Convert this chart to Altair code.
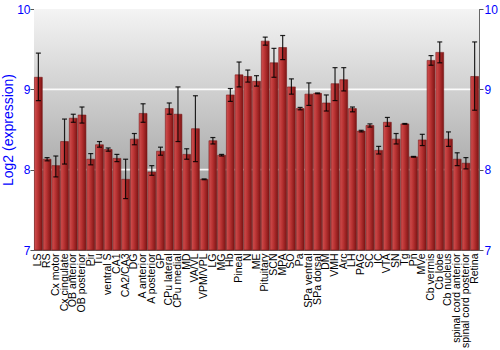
import altair as alt
import pandas as pd

regions = ["LS", "RS", "Cx motor", "Cx cingulate", "OB anterior", "OB posterior", "Pir", "Tu",
           "ventral S", "CA1", "CA2/CA3", "DG", "A anterior", "A posterior", "GP", "CPu lateral",
           "CPu medial", "MD", "VA/VL", "VPM/VPL", "LG", "MG", "Hb", "Pineal", "N", "ME",
           "Pituitary", "SCN", "MPA", "SO", "Pa", "SPa ventral", "SPa dorsal", "DM", "VMH", "Arc",
           "LH", "PAG", "SC", "IC", "VTA", "SN", "Tg", "Pn", "MVe", "Cb vermis", "Cb lobe",
           "Cb nucleus", "spinal cord anterior", "spinal cord posterior", "Retina"]
values = [9.15, 8.13, 8.05, 8.35, 8.64, 8.68, 8.13, 8.31,
          8.25, 8.14, 7.88, 8.38, 8.70, 7.97, 8.23, 8.76,
          8.69, 8.19, 8.51, 7.88, 8.36, 8.18, 8.93, 9.18, 9.16, 9.10,
          9.60, 9.33, 9.52, 9.03, 8.76, 8.94, 8.95, 8.83, 9.07, 9.12,
          8.76, 8.48, 8.55, 8.24, 8.59, 8.38, 8.57, 8.16, 8.37, 9.36, 9.46,
          8.38, 8.13, 8.08, 9.16]
err_low = [8.86, 8.11, 7.91, 8.07, 8.59, 8.58, 8.06, 8.28,
           8.23, 8.10, 7.64, 8.31, 8.59, 7.93, 8.18, 8.69,
           8.35, 8.13, 8.10, 7.875, 8.32, 8.17, 8.85, 9.03, 9.09, 9.04,
           9.55, 9.15, 9.37, 8.94, 8.745, 8.80, 8.945, 8.73, 8.86, 8.98,
           8.72, 8.47, 8.53, 8.195, 8.54, 8.32, 8.565, 8.155, 8.30, 9.30, 9.33,
           8.29, 8.05, 8.01, 8.74]
err_high = [9.45, 8.15, 8.17, 8.63, 8.69, 8.78, 8.20, 8.35,
            8.27, 8.19, 8.13, 8.45, 8.82, 8.05, 8.28, 8.83,
            9.03, 8.26, 8.92, 7.885, 8.40, 8.19, 9.01, 9.34, 9.24, 9.17,
            9.65, 9.51, 9.67, 9.13, 8.775, 9.08, 8.955, 8.93, 9.27, 9.27,
            8.78, 8.49, 8.57, 8.29, 8.65, 8.45, 8.575, 8.165, 8.44, 9.42, 9.59,
            8.47, 8.21, 8.15, 9.59]
y_ticks = [7, 8, 9, 10]
grid_lines = [8, 9]

df = pd.DataFrame({"region": regions, "value": values, "lo": err_low, "hi": err_high})

W, H = 445, 241
FONT = "Liberation Sans"

yscale = alt.Scale(domain=[7, 10], nice=False, zero=False)
xenc = alt.X("region:N", sort=regions, scale=alt.Scale(paddingInner=0.1, paddingOuter=0.05),
             axis=alt.Axis(title=None, labelAngle=-90, labelAlign="right", labelBaseline="middle",
                           labelFontSize=10.5, labelColor="black", ticks=False, labelPadding=3,
                           domainColor="#666666", labelFont=FONT))
xplain = alt.X("region:N", sort=regions)

bg = alt.Chart(alt.Data(values=[{}])).mark_rect(
    fill={"gradient": "linear", "x1": 0, "y1": 0, "x2": 0, "y2": 1,
          "stops": [{"offset": 0, "color": "#f4f4f4"}, {"offset": 1, "color": "#898989"}]}
).encode(x=alt.value(0), x2=alt.value(W), y=alt.value(0), y2=alt.value(H))

grid_df = pd.DataFrame({"g": grid_lines})
grid = alt.Chart(grid_df).mark_rule(color="white", strokeWidth=1.6, opacity=0.9).encode(
    y=alt.Y("g:Q", scale=yscale, axis=None))

bars = alt.Chart(df).mark_bar(
    fill={"gradient": "linear", "x1": 0, "y1": 0, "x2": 1, "y2": 0,
          "stops": [{"offset": 0, "color": "#d05050"}, {"offset": 0.45, "color": "#b83232"},
                    {"offset": 1, "color": "#7e1414"}]},
    stroke="#7a1a1a", strokeWidth=0.6
).encode(
    x=xenc,
    y=alt.Y("value:Q", scale=yscale,
            axis=alt.Axis(title="Log2 (expression)", values=y_ticks, grid=False,
                          labelColor="blue", titleColor="blue", labelFontSize=12,
                          titleFontSize=14, titleFontWeight="normal", tickColor="#555555",
                          domainColor="#666666", tickSize=4, labelPadding=0,
                          labelFont=FONT, titleFont=FONT, titlePadding=1)),
    y2=alt.datum(7),
)

rules = alt.Chart(df).mark_rule(color="black", strokeWidth=1.2, opacity=0.85).encode(
    x=xplain, y=alt.Y("lo:Q", scale=yscale, axis=None), y2="hi:Q")
cap_lo = alt.Chart(df).mark_tick(color="black", thickness=1.2, size=5, opacity=0.85).encode(
    x=xplain, y=alt.Y("lo:Q", scale=yscale, axis=None))
cap_hi = alt.Chart(df).mark_tick(color="black", thickness=1.2, size=5, opacity=0.85).encode(
    x=xplain, y=alt.Y("hi:Q", scale=yscale, axis=None))

tick_df = pd.DataFrame({"t": y_ticks})
right_axis = alt.Chart(tick_df).mark_rule(opacity=0).encode(
    y=alt.Y("t:Q", scale=yscale,
            axis=alt.Axis(orient="right", title=None, values=y_ticks, grid=False,
                          labelColor="blue", labelFontSize=12, tickColor="#555555",
                          domainColor="#666666", tickSize=4, labelPadding=1,
                          labelFont=FONT)))

chart = alt.layer(bg, grid, bars, rules, cap_lo, cap_hi, right_axis).resolve_scale(
    y="shared").resolve_axis(y="independent").properties(
    width=W, height=H, autosize=alt.AutoSizeParams(type="none"),
    padding={"left": 34, "top": 9, "right": 21, "bottom": 100}
).configure_view(stroke="#666666", strokeWidth=1)

chart.save("out.html", embed_options={"renderer": "svg", "actions": False})
